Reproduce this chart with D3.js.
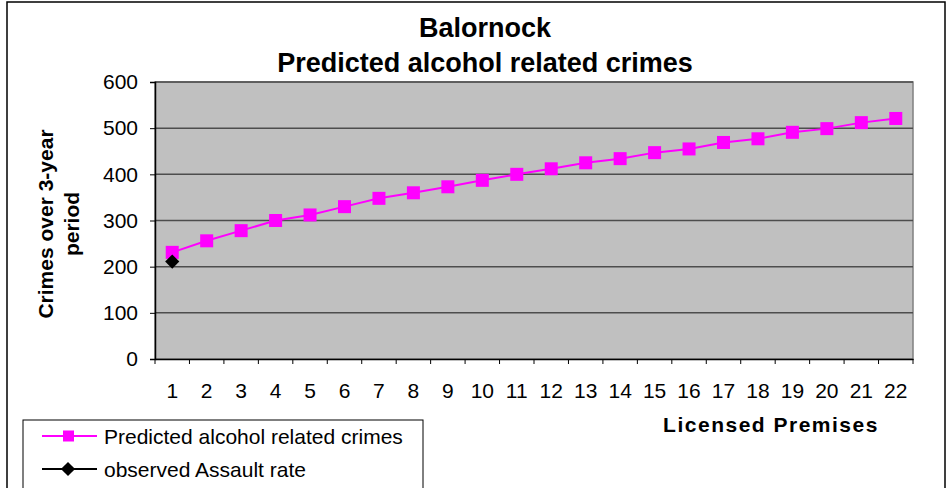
<!DOCTYPE html>
<html><head><meta charset="utf-8">
<script src="https://cdn.jsdelivr.net/npm/d3@7"></script>
<style>body{margin:0;background:#fff;}svg{display:block;font-family:"Liberation Sans",Arial,sans-serif;}</style>
</head><body>
<svg id="c" width="948" height="488"></svg>
<script>
const categories = [1,2,3,4,5,6,7,8,9,10,11,12,13,14,15,16,17,18,19,20,21,22];
const predicted = [231,256,278,300,312,330,348,360,373,387,400,412,425,434,447,455,469,477,491,499,512,521];
const observed = [211];
const yTicks = [0,100,200,300,400,500,600];
const titleLines = ["Balornock","Predicted alcohol related crimes"];
const yLabelLines = ["Crimes over 3-year","period"];
const xLabel = "Licensed Premises";
const seriesNames = ["Predicted alcohol related crimes","observed Assault rate"];

const svg = d3.select("#c");
const L=155, R=913, T=82, B=359;
const x = d3.scaleBand().domain(categories).range([L,R]);
const y = d3.scaleLinear().domain([0,600]).range([B,T]);
const FONT = "Liberation Sans, Arial, sans-serif";

// outer border
svg.append("rect").attr("x",7).attr("y",2).attr("width",938).attr("height",500)
  .attr("fill","#fff").attr("stroke","#000").attr("stroke-width",1.5);

// plot bg
svg.append("rect").attr("x",L).attr("y",T).attr("width",R-L).attr("height",B-T)
  .attr("fill","#C0C0C0").attr("stroke","#808080").attr("stroke-width",1.5);

// gridlines
svg.append("g").selectAll("line").data(yTicks.filter(d=>d>0)).join("line")
  .attr("x1",L).attr("x2",R).attr("y1",d=>y(d)).attr("y2",d=>y(d))
  .attr("stroke","#4d4d4d").attr("stroke-width",1.5);

// y axis
const ya = svg.append("g").attr("transform",`translate(${L},0)`)
  .call(d3.axisLeft(y).tickValues(yTicks).tickSize(5).tickPadding(12));
ya.select(".domain").attr("stroke","#000").attr("stroke-width",1.5);
ya.selectAll(".tick line").attr("stroke","#000");
ya.selectAll("text").attr("font-size",21).attr("fill","#000").attr("font-family",FONT);

// x axis
const xa = svg.append("g").attr("transform",`translate(0,${B})`)
  .call(d3.axisBottom(x).tickSize(0).tickPadding(24));
xa.select(".domain").attr("stroke","#000").attr("stroke-width",1.5);
xa.selectAll("text").attr("font-size",21).attr("fill","#000").attr("font-family",FONT);
svg.append("g").selectAll("line").data(d3.range(categories.length+1)).join("line")
  .attr("x1",i=>L+i*x.step()).attr("x2",i=>L+i*x.step())
  .attr("y1",B).attr("y2",B+5).attr("stroke","#000").attr("stroke-width",1);

// line + markers
const cx = d=>x(d)+x.bandwidth()/2;
svg.append("path").datum(predicted)
  .attr("d",d3.line().x((d,i)=>cx(categories[i])).y(d=>y(d)))
  .attr("fill","none").attr("stroke","#FF00FF").attr("stroke-width",2);
svg.append("g").selectAll("rect").data(predicted).join("rect")
  .attr("x",(d,i)=>cx(categories[i])-6.5).attr("y",d=>y(d)-6.5)
  .attr("width",13).attr("height",13).attr("fill","#FF00FF");

const diamond = d3.symbol().type(d3.symbolSquare).size(100);
svg.append("g").selectAll("path").data(observed).join("path")
  .attr("d",diamond)
  .attr("transform",(d,i)=>`translate(${cx(categories[i])},${y(d)}) rotate(45)`)
  .attr("fill","#000");

// titles
svg.append("g").selectAll("text").data(titleLines).join("text")
  .attr("x",485).attr("y",(d,i)=>37+i*35).attr("text-anchor","middle")
  .attr("font-size",27).attr("font-weight","bold").text(d=>d);

// y label
svg.append("g").attr("transform","translate(53,224) rotate(-90)")
  .selectAll("text").data(yLabelLines).join("text")
  .attr("x",0).attr("y",(d,i)=>i*26).attr("text-anchor","middle")
  .attr("font-size",21).attr("font-weight","bold").text(d=>d);

// x label
svg.append("text").attr("x",771).attr("y",432).attr("text-anchor","middle")
  .attr("font-size",21).attr("font-weight","bold").attr("letter-spacing",1.5).text(xLabel);

// legend
const lg = svg.append("g");
lg.append("rect").attr("x",23).attr("y",420).attr("width",400).attr("height",90)
  .attr("fill","#fff").attr("stroke","#000").attr("stroke-width",1);
const ly = [436,469];
lg.selectAll("line").data(seriesNames).join("line")
  .attr("x1",42).attr("x2",97).attr("y1",(d,i)=>ly[i]).attr("y2",(d,i)=>ly[i])
  .attr("stroke",(d,i)=>i?"#000":"#FF00FF").attr("stroke-width",2);
lg.append("rect").attr("x",63).attr("y",ly[0]-5.5).attr("width",11).attr("height",11).attr("fill","#FF00FF");
lg.append("path").attr("d",diamond).attr("transform",`translate(68,${ly[1]}) rotate(45)`).attr("fill","#000");
lg.selectAll("text").data(seriesNames).join("text")
  .attr("x",104).attr("y",(d,i)=>ly[i]+7.5).attr("font-size",21).text(d=>d);
</script>
</body></html>
